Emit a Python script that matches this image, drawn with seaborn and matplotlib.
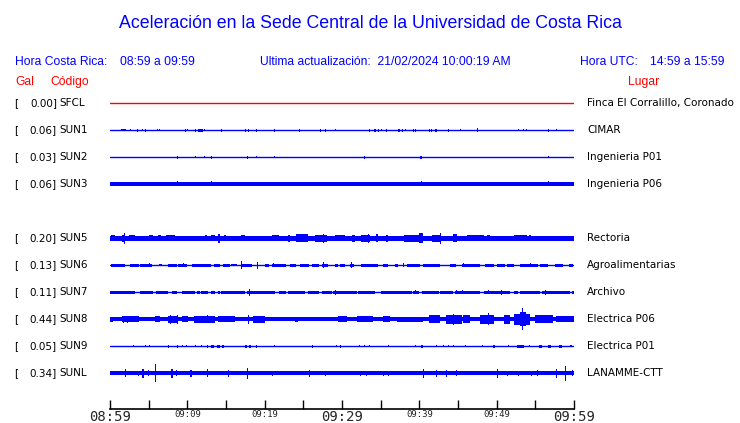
import matplotlib
matplotlib.use("Agg")
import matplotlib.pyplot as plt
import seaborn as sns
import pandas as pd

# --- Data ---
# station order top to bottom (SUN4 slot left empty)
codes = ["SFCL", "SUN1", "SUN2", "SUN3", None, "SUN5", "SUN6", "SUN7", "SUN8", "SUN9", "SUNL"]
gal = ["0.00", "0.06", "0.03", "0.06", None, "0.20", "0.13", "0.11", "0.44", "0.05", "0.34"]
places = ["Finca El Corralillo, Coronado", "CIMAR", "Ingenieria P01", "Ingenieria P06", None,
          "Rectoria", "Agroalimentarias", "Archivo", "Electrica P06", "Electrica P01", "LANAMME-CTT"]

# base half-amplitude of each trace (pixels)
base_amp = [0.5, 0.5, 0.5, 1.7, None, 2.5, 0.5, 0.5, 1.9, 0.5, 2.0]

# bursts: (start minute, end minute, half-amplitude in pixels), minutes after 08:59
sun1 = [(1.4, 2.1, 1.3), (2.6, 2.6, 1), (3.5, 3.5, 1.5), (4.1, 4.2, 1), (4.5, 4.5, 1.5), (6.1, 6.1, 1),
        (6.4, 6.4, 1), (9.7, 9.7, 1.5), (10.0, 10.0, 1), (11.0, 11.0, 1.5), (11.4, 12.0, 1.5),
        (12.2, 12.2, 1), (14.3, 14.3, 1.5), (17.4, 17.5, 1.5), (17.9, 17.9, 1.5), (18.9, 18.9, 1.5),
        (21.2, 21.2, 1.5), (24.4, 24.6, 1.5), (27.1, 27.1, 1.5), (27.8, 27.9, 1.5), (29.1, 29.1, 1),
        (33.5, 33.5, 1.5), (34.2, 34.4, 1.5), (34.6, 34.6, 1.5), (35.1, 35.1, 1), (35.7, 35.7, 1.5),
        (37.3, 37.5, 1.5), (37.7, 37.9, 1.5), (38.2, 38.2, 1), (39.2, 39.2, 1.5), (39.5, 39.6, 1.5),
        (41.2, 41.2, 1.5), (41.5, 41.5, 1.5), (42.0, 42.3, 1.5), (43.7, 43.7, 1.5), (45.2, 45.2, 1),
        (47.4, 47.4, 2), (52.7, 52.7, 1), (53.4, 53.4, 1), (53.8, 53.8, 1), (56.7, 56.7, 1.5),
        (57.7, 57.7, 1)]
sun2 = [(8.7, 8.7, 1.5), (11.0, 11.0, 1), (12.1, 12.1, 1), (13.1, 13.1, 1.5), (17.7, 17.7, 1.5),
        (18.9, 18.9, 1), (21.2, 21.2, 1), (32.8, 32.8, 1.5), (40.1, 40.3, 1.5), (56.7, 56.7, 1)]
sun3 = [(8.7, 8.7, 2.5), (13.1, 13.1, 2.5), (18.9, 18.9, 2), (26.7, 26.7, 2), (39.2, 39.2, 2),
        (40.2, 40.2, 2.5), (56.7, 56.7, 2.5)]
sun5 = [(0.1, 0.6, 3), (1.5, 2.0, 3.5), (1.8, 1.9, 5.5), (2.4, 3.2, 3), (5.0, 5.5, 3), (6.2, 6.6, 3),
        (7.3, 8.4, 3), (9.2, 10.1, 2.5), (12.3, 12.6, 3), (13.0, 13.6, 3), (14.0, 14.2, 4.5),
        (14.8, 15.0, 3), (17.0, 17.5, 3), (20.9, 21.8, 3), (23.0, 23.3, 3.5), (24.1, 25.6, 4),
        (26.5, 28.0, 3.5), (27.6, 27.7, 4.5), (29.1, 30.4, 3), (31.3, 31.7, 3.5), (32.4, 33.6, 3.5),
        (33.3, 33.4, 4.5), (34.4, 34.6, 4), (35.7, 35.9, 3.5), (38.0, 40.5, 3.5), (39.9, 40.5, 5),
        (41.6, 42.7, 3.5), (42.7, 42.8, 5.5), (44.4, 44.9, 4), (46.1, 48.3, 3), (48.7, 49.1, 3),
        (52.2, 53.9, 3), (54.2, 54.4, 3), (56.0, 60.0, 2.5)]
sun6 = [(0.1, 1.9, 1.5), (2.6, 3.7, 1.5), (3.9, 5.4, 1.5), (5.0, 5.0, 2), (6.3, 6.7, 1),
        (7.5, 8.6, 1.5), (8.8, 9.9, 1.5), (9.5, 9.5, 2), (10.6, 13.0, 1.5), (13.4, 14.2, 1.5),
        (14.6, 15.5, 1.5), (15.7, 16.4, 1), (16.9, 16.9, 4), (17.0, 18.3, 1.5), (19.0, 19.1, 3.5),
        (20.0, 20.5, 1.5), (20.9, 22.8, 1.5), (21.1, 21.1, 2), (23.3, 24.1, 1.5), (24.6, 25.7, 1.5),
        (26.1, 27.0, 1.5), (27.4, 28.2, 1.5), (27.6, 27.6, 3), (29.1, 29.5, 1.5), (29.7, 30.4, 1.5),
        (31.0, 31.5, 1.5), (31.2, 31.2, 3), (32.5, 34.7, 1.5), (35.3, 36.0, 1.5), (36.9, 37.3, 1.5),
        (37.9, 37.9, 2), (38.4, 40.1, 1.5), (40.5, 42.7, 1.5), (44.0, 44.8, 1.5), (45.5, 47.8, 1.5),
        (45.7, 45.7, 2), (48.5, 49.6, 1.5), (50.0, 51.1, 1.5), (51.3, 52.2, 1.5), (53.0, 55.4, 1.5),
        (54.3, 54.3, 2), (55.6, 56.7, 1.5), (57.5, 58.6, 1.5), (59.3, 59.9, 1.5)]
sun7 = [(0.0, 3.2, 1.5), (3.9, 5.6, 1.5), (6.0, 7.5, 1.5), (8.0, 8.6, 1.5), (9.3, 11.0, 1.5),
        (11.2, 11.6, 1.5), (11.8, 12.7, 1.5), (13.1, 13.6, 1.5), (14.0, 14.2, 1.5), (14.4, 17.5, 1.5),
        (17.7, 21.3, 1.5), (18.0, 18.0, 3.5), (21.8, 22.8, 1.5), (23.0, 25.2, 1.5), (25.6, 27.0, 1.5),
        (27.4, 28.7, 1.5), (28.9, 30.4, 1.5), (29.1, 29.1, 2.5), (29.7, 31.9, 1.5), (32.1, 34.3, 1.5),
        (35.1, 39.0, 1.5), (39.2, 39.9, 1.5), (39.4, 39.4, 2), (40.3, 42.5, 1.5), (42.7, 44.4, 1.5),
        (44.6, 47.8, 1.5), (44.8, 44.8, 2), (45.5, 45.5, 2), (48.3, 51.7, 1.5), (48.9, 48.9, 2),
        (50.6, 50.6, 2.5), (52.2, 52.8, 1.5), (53.0, 55.6, 1.5), (55.8, 59.5, 1.5), (56.2, 56.2, 2.5),
        (59.7, 60.0, 1.5)]
sun8 = [(0.0, 0.4, 2.5), (1.5, 3.7, 3), (1.7, 1.7, 3.5), (2.2, 2.2, 3.5), (5.8, 6.5, 3),
        (7.5, 8.8, 3.5), (7.7, 7.7, 4.5), (8.7, 8.7, 4.5), (9.3, 10.1, 3), (10.8, 13.6, 3.5),
        (12.5, 12.5, 4), (14.0, 16.1, 3), (17.9, 17.9, 4.5), (18.5, 20.0, 3.5), (23.9, 24.3, 2.5),
        (29.5, 30.6, 3), (31.9, 34.0, 3), (35.3, 36.2, 3), (37.1, 40.5, 2.5), (41.2, 42.7, 4),
        (43.5, 45.5, 4.5), (44.3, 44.3, 5.5), (45.7, 46.5, 4), (47.8, 49.6, 4.5), (48.9, 48.9, 6),
        (50.9, 51.7, 4.5), (52.2, 54.3, 5.5), (53.0, 53.8, 7), (53.3, 53.4, 11), (55.0, 57.3, 4),
        (57.7, 60.0, 3)]
sun9 = [(3.0, 3.0, 1), (4.5, 4.5, 1), (5.0, 5.0, 1), (7.5, 7.5, 1.5), (8.7, 8.7, 1.5), (9.3, 9.3, 1),
        (9.8, 9.8, 1), (11.0, 11.0, 1), (11.8, 11.8, 1), (12.5, 12.5, 1.5), (13.0, 13.4, 1.5),
        (13.9, 14.2, 1.5), (14.5, 14.8, 1.5), (17.5, 17.7, 1.5), (18.0, 18.2, 1.5), (18.9, 18.9, 1.5),
        (21.2, 21.2, 1), (26.1, 26.1, 1.5), (29.2, 29.2, 1), (29.8, 29.8, 1.5), (32.2, 32.2, 1),
        (32.8, 32.8, 1), (33.5, 33.5, 1), (35.9, 35.9, 1), (39.5, 39.5, 1), (40.2, 40.5, 1.5),
        (42.1, 42.2, 1), (43.1, 43.1, 1), (43.7, 43.7, 1), (44.3, 44.3, 1), (45.9, 45.9, 1),
        (48.1, 48.1, 1), (49.5, 49.8, 1.5), (51.5, 51.5, 1), (52.6, 53.5, 1.5), (54.2, 54.2, 1),
        (55.5, 55.8, 1.5), (56.7, 57.0, 1.5), (58.0, 58.4, 1.5), (59.5, 59.8, 1)]
sunl = [(2.0, 2.0, 4), (3.6, 3.6, 2.5), (4.2, 4.4, 4.5), (4.9, 4.9, 3), (5.8, 5.8, 9), (7.9, 8.2, 4.5),
        (8.5, 8.5, 3), (10.3, 10.6, 3.5), (12.5, 12.5, 4), (15.3, 15.3, 3.5), (17.7, 17.7, 5.5),
        (20.9, 20.9, 2.5), (25.7, 25.7, 3.5), (27.8, 27.8, 2.5), (32.3, 32.4, 2.5), (33.1, 33.2, 2.5),
        (35.3, 35.3, 2.5), (36.0, 36.0, 2.5), (40.5, 40.5, 4.5), (42.2, 42.2, 3.5), (43.4, 43.4, 3.5),
        (44.7, 44.7, 3), (50.1, 50.1, 4.5), (51.3, 51.3, 2.5), (52.8, 52.8, 2.5), (54.5, 54.5, 2.5),
        (55.2, 55.2, 3), (57.7, 57.7, 4.5), (58.9, 58.9, 7.5), (59.8, 59.8, 3)]
bursts = [[], sun1, sun2, sun3, None, sun5, sun6, sun7, sun8, sun9, sunl]

tick_minutes = list(range(0, 61, 5))
tick_text = ["08:59", "", "09:09", "", "09:19", "", "09:29", "", "09:39", "", "09:49", "", "09:59"]

# --- Style ---
sns.set_style("white")
plt.rcParams['font.family'] = ['DejaVu Sans']

BLUE = "#0000ff"
RED = "#ff0000"
W, H = 740, 423


def fx(x):
    return x / W


def fy(y):
    return 1 - y / H


fig = plt.figure(figsize=(W / 100, H / 100), dpi=100)

# header texts (baseline-aligned)
head = dict(color=BLUE, family="Liberation Sans", va="baseline")
fig.text(fx(370), fy(28), "Aceleración en la Sede Central de la Universidad de Costa Rica",
         ha="center", fontsize=12.8, **head)
fig.text(fx(15), fy(65), "Hora Costa Rica:", ha="left", fontsize=8.7, **head)
fig.text(fx(120), fy(65), "08:59 a 09:59", ha="left", fontsize=8.7, **head)
fig.text(fx(260), fy(65), "Ultima actualización:  21/02/2024 10:00:19 AM", ha="left", fontsize=8.7, **head)
fig.text(fx(580), fy(65), "Hora UTC:", ha="left", fontsize=8.7, **head)
fig.text(fx(650), fy(65), "14:59 a 15:59", ha="left", fontsize=8.7, **head)
red = dict(color=RED, family="Liberation Sans", va="baseline", fontsize=8.7)
fig.text(fx(15), fy(85), "Gal", ha="left", **red)
fig.text(fx(50), fy(85), "Código", ha="left", **red)
fig.text(fx(628), fy(85), "Lugar", ha="left", **red)

# trace axes, y in pixel rows
ax = fig.add_axes([fx(110), fy(409), 464 / W, (409 - 90) / H])
ax.set_xlim(0, 60)
ax.set_ylim(409, 90)

for i, code in enumerate(codes):
    if code is None:
        continue
    row = 103 + 27 * i
    color = RED if i == 0 else BLUE
    b = base_amp[i]
    if b <= 0.5:
        line = pd.DataFrame({"t": [0, 60], "y": [row, row]})
        sns.lineplot(data=line, x="t", y="y", color=color, lw=1.0, ax=ax)
    else:
        ax.fill_between([0, 60], row - b, row + b, color=color, lw=0, antialiased=False)
    for s, e, a in bursts[i]:
        e = max(e, s + 0.13)
        ax.fill_between([s, e], row - a, row + a, color=color, lw=0, antialiased=False)

    ty = fy(row)
    lab = dict(color="black", va="center", fontsize=7.5)
    fig.text(fx(14), ty, "[", ha="left", **lab)
    fig.text(fx(57), ty, gal[i] + "]", ha="right", **lab)
    fig.text(fx(59), ty, code, ha="left", **lab)
    fig.text(fx(587), ty, places[i], ha="left", **lab)

ax.set_xlabel("")
ax.set_ylabel("")
ax.set_yticks([])
for side in ["top", "left", "right"]:
    ax.spines[side].set_visible(False)
ax.spines["bottom"].set_color("black")
ax.spines["bottom"].set_linewidth(1.2)
ax.set_xticks(tick_minutes)
ax.set_xticklabels(tick_text, family="DejaVu Sans Mono")
ax.tick_params(axis="x", bottom=True, direction="in", length=6.5, width=1, color="black", pad=1)
for lbl, m in zip(ax.get_xticklabels(), tick_minutes):
    lbl.set_fontsize(10 if m in (0, 30, 60) else 6.5)

fig.savefig("out.png", dpi=100)
